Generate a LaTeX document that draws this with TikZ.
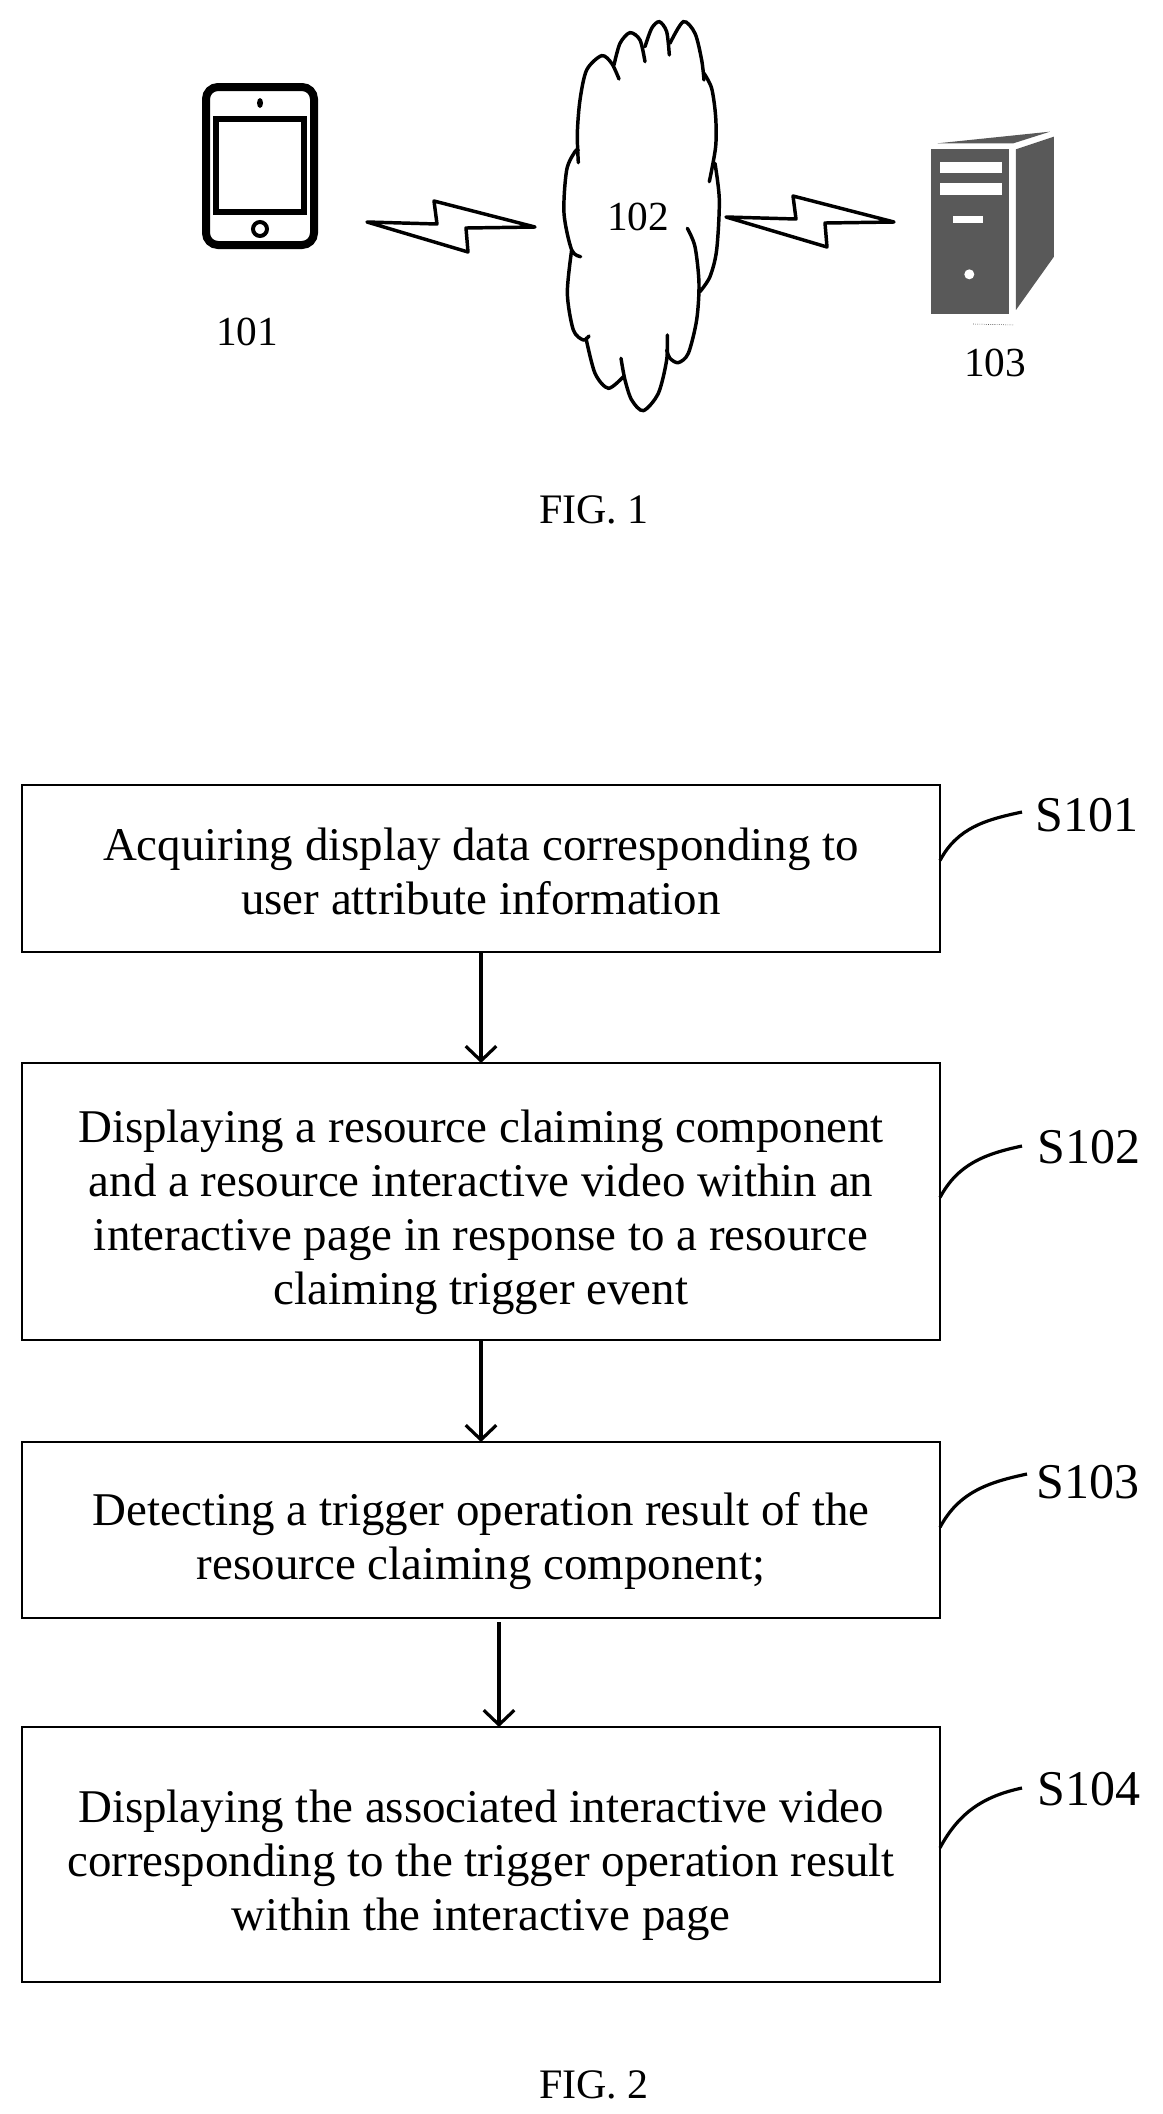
\documentclass[tikz,border=0pt]{standalone}
\usepackage{fontspec}
\setmainfont{Liberation Serif}
\usetikzlibrary{positioning}
\usetikzlibrary{arrows.meta}

\newcommand{\toppad}[1]{\rule{0pt}{#1}}

\tikzset{
  stepbox/.style={draw, line width=1.9pt, minimum width=688.5pt, align=center, outer sep=0pt, inner sep=0pt,
    font=\fontsize{35.2}{40.5}\selectfont},
  flow/.style={line width=2.4pt, -{Straight Barb[length=11pt,width=23pt,line width=2.4pt]}},
  leader/.style={line width=2.4pt},
  lobe/.style={line width=2.6pt, line cap=round},
  numlabel/.style={font=\fontsize{31}{36}\selectfont, inner sep=0pt},
  steplabel/.style={font=\fontsize{37.5}{42}\selectfont, inner sep=0pt},
  figlabel/.style={font=\fontsize{31.5}{36}\selectfont, inner sep=0pt},
  bolt/.pic={
    \draw[line width=2.6pt, line join=round] (0,0) -- (70,2) -- (67,-21) -- (168,5) -- (99,6) -- (101,30) -- cycle;
  }
}

\begin{document}
\begin{tikzpicture}[x=0.75pt, y=-0.75pt]
  \useasboundingbox (0,0) rectangle (1163,2114);

  % phone
  \draw[line width=6pt, rounded corners=9pt] (206,87) rectangle (314,245);
  \draw[line width=3.8pt] (216,119) rectangle (304,212);
  \fill (260,103) ellipse (3 and 5);
  \draw[line width=3pt] (260,229) circle (7);
  \node[numlabel] (n101) at (247,332) {101};

  \pic at (367,222) {bolt};
  \pic at (726,217) {bolt};

  % cloud
  \begin{scope}[shift={(550,0)}, scale=0.3333]
    \draw[lobe] plot[smooth] coordinates {(85,488) (82,400) (90,300) (110,210) (155,167) (185,190) (207,237)};
    \draw[lobe] plot[smooth] coordinates {(192,195) (210,130) (240,98) (270,120) (285,185)};
    \draw[lobe] plot[smooth] coordinates {(285,140) (305,85) (328,65) (350,95) (358,165)};
    \draw[lobe] plot[smooth] coordinates {(360,130) (400,65) (435,100) (455,180) (462,240)};
    \draw[lobe] plot[smooth] coordinates {(462,220) (485,265) (497,350) (497,440) (478,545)};
    \draw[lobe] plot[smooth] coordinates {(495,490) (508,600) (500,750) (480,830) (450,875)};
    \draw[lobe] plot[smooth] coordinates {(412,685) (435,740) (447,850) (440,960) (415,1060) (385,1088) (360,1075) (350,1050)};
    \draw[lobe] plot[smooth] coordinates {(352,1005) (350,1080) (325,1180) (280,1232) (245,1200) (225,1140) (213,1075)};
    \draw[lobe] plot[smooth] coordinates {(220,1130) (175,1165) (135,1120) (108,1015)};
    \draw[lobe] plot[smooth] coordinates {(117,1008) (100,1020) (70,990) (52,880) (65,750)};
    \draw[lobe] plot[smooth] coordinates {(92,770) (65,750) (42,640) (50,510) (75,455) (85,450)};
  \end{scope}
  \node[numlabel] (n102) at (638,217) {102};

  % server
  \begin{scope}[shift={(700,100)}, scale=0.3333]
    \fill[black!65] (692,148) rectangle (928,642);
    \fill[white] (720,185) rectangle (905,220);
    \fill[white] (720,250) rectangle (905,285);
    \fill[white] (760,348) rectangle (850,370);
    \fill[white] (808,523) circle (15);
    \fill[black!65] (948,148) -- (1062,110) -- (1062,470) -- (948,630) -- cycle;
    \fill[black!65] (712,130) -- (1050,95) -- (940,130) -- cycle;
    \draw[densely dotted, line width=0.4pt] (820,672) -- (940,675);
  \end{scope}
  \node[numlabel] (n103) at (995,363) {103};

  \node[figlabel] (fig1) at (594,510) {FIG. 1};

  % flow
  \node[stepbox, minimum height=125.25pt] (s101) at (481,868.5) {\toppad{28.5pt}Acquiring display data corresponding to\\user attribute information};
  \node[stepbox, minimum height=207.75pt, below=83.25pt of s101] (s102) {\toppad{40pt}Displaying a resource claiming component\\and a resource interactive video within an\\interactive page in response to a resource\\claiming trigger event};
  \node[stepbox, minimum height=132pt, below=76.5pt of s102] (s103) {\toppad{42pt}Detecting a trigger operation result of the\\resource claiming component;};
  \node[stepbox, minimum height=191.25pt, below=81.75pt of s103] (s104) {\toppad{40pt}Displaying the associated interactive video\\corresponding to the trigger operation result\\within the interactive page};

  \coordinate (c103) at (499,1622);
  \draw[flow] (s101) -- (s102);
  \draw[flow] (s102) -- (s103);
  \draw[flow] (c103) -- (c103 |- s104.north);

  \node[steplabel] (t101) at (1087,815) {S101};
  \node[steplabel] (t102) at (1089,1147) {S102};
  \node[steplabel] (t103) at (1088,1482) {S103};
  \node[steplabel] (t104) at (1089,1789) {S104};

  \coordinate (l101) at (1022,812);
  \coordinate (l102) at (1022,1146);
  \coordinate (l103) at (1027,1474);
  \coordinate (l104) at (1022,1788);
  \foreach \i/\d in {101/6,102/3,103/2,104/5} {
      \draw[leader] ([yshift=\d pt]s\i.east) to[out=62, in=192] (l\i);
    }

  \node[figlabel] (fig2) at (594,2085) {FIG. 2};

\end{tikzpicture}
\end{document}
